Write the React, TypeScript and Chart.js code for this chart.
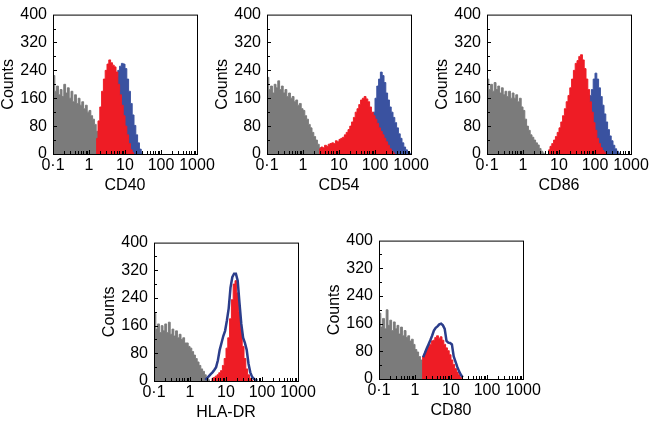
import React, { useEffect, useRef } from 'react';
import { Chart, registerables } from 'chart.js';

Chart.register(...registerables);

// ---- axis definitions ----
const X_TICK_VALUES = [0.1, 1, 10, 100, 1000];
const X_TICK_LABELS = ['0·1', '1', '10', '100', '1000'];
const Y_TICK_VALUES = [0, 80, 160, 240, 320, 400];
const Y_MINOR_STEP = 40;
const BINS_PER_DECADE = 20; // histogram channel resolution (log10 units)
const X_MIN_EXP = -1;

// ---- CD40 ----
const cd40GrayStart = 0;
const cd40Gray = [225, 180, 195, 170, 185, 165, 200, 175, 190, 160, 180, 150, 170, 145, 160, 140, 150, 130, 140, 120, 125, 110, 100, 85, 65, 45, 30, 15, 5];
const cd40RedStart = 24;
const cd40Red = [45, 95, 135, 180, 215, 240, 258, 270, 262, 255, 250, 235, 200, 170, 140, 110, 80, 55, 30, 12, 4];
const cd40BlueStart = 32;
const cd40Blue = [150, 180, 200, 220, 240, 252, 260, 258, 245, 215, 180, 145, 112, 82, 55, 32, 14, 5];

// ---- CD54 ----
const cd54GrayStart = 0;
const cd54Gray = [220, 185, 195, 175, 200, 190, 210, 185, 195, 175, 185, 165, 175, 160, 165, 150, 155, 140, 145, 130, 125, 110, 100, 85, 75, 62, 50, 40, 28, 18, 10, 4];
const cd54RedStart = 29;
const cd54Red = [15, 20, 18, 25, 22, 28, 30, 32, 30, 38, 35, 42, 45, 48, 55, 62, 70, 80, 92, 105, 120, 130, 142, 155, 160, 165, 158, 150, 135, 120, 110, 100, 88, 75, 65, 55, 45, 35, 25, 15, 8, 3];
const cd54BlueStart = 54;
const cd54Blue = [40, 55, 70, 85, 100, 120, 160, 195, 215, 235, 225, 205, 175, 155, 135, 120, 105, 90, 75, 58, 45, 32, 20, 12, 6, 2];

// ---- CD86 ----
const cd86GrayStart = 0;
const cd86Gray = [215, 185, 200, 180, 205, 185, 195, 175, 190, 170, 180, 165, 180, 160, 175, 160, 170, 150, 160, 135, 125, 100, 80, 68, 55, 48, 40, 32, 26, 16, 8, 3];
const cd86RedStart = 34;
const cd86Red = [12, 22, 30, 40, 50, 62, 75, 92, 110, 130, 150, 168, 190, 215, 240, 260, 268, 280, 285, 270, 245, 215, 185, 150, 120, 90, 68, 45, 30, 18, 10, 5];
const cd86BlueStart = 50;
const cd86Blue = [80, 100, 120, 135, 148, 155, 160, 168, 185, 215, 232, 215, 190, 165, 140, 115, 92, 70, 52, 38, 25, 15, 8, 3];

// ---- HLA-DR ----
const hlaGrayStart = 0;
const hlaGray = [195, 150, 165, 140, 160, 145, 165, 140, 170, 135, 150, 130, 145, 125, 135, 120, 125, 110, 110, 100, 95, 85, 75, 65, 55, 45, 35, 28, 18, 10, 4];
const hlaRedStart = 32;
const hlaRed = [8, 10, 14, 18, 24, 30, 45, 65, 95, 125, 180, 235, 280, 290, 255, 200, 150, 100, 65, 35, 18, 8, 3];
const hlaBlueStart = 28;
const hlaBlue = [3, 8, 14, 20, 25, 32, 40, 60, 90, 110, 130, 145, 175, 210, 270, 300, 310, 310, 290, 225, 165, 125, 110, 90, 50, 25, 12, 6, 3, 1];

// ---- CD80 ----
const cd80GrayStart = 0;
const cd80Gray = [190, 150, 175, 145, 200, 155, 170, 140, 165, 145, 155, 130, 150, 125, 140, 120, 125, 110, 115, 100, 85, 78, 65, 55, 45, 32, 20, 10, 4];
const cd80RedStart = 24;
const cd80Red = [65, 72, 85, 95, 100, 110, 112, 120, 125, 118, 122, 112, 100, 90, 82, 70, 55, 42, 30, 20, 12, 5];
const cd80BlueStart = 24;
const cd80Blue = [63, 75, 88, 100, 112, 125, 140, 148, 152, 158, 160, 155, 145, 110, 105, 104, 100, 65, 50, 35, 22, 12, 5];

// ---- styles ----
const GRAY = '#7b7b7b';
const RED = '#ee1c25';
const BLUE = '#3a52a0';
const BLUE_LINE = '#2b3d8b';
const FONT = { family: "'Liberation Sans', Arial, Helvetica, sans-serif", size: 16 };

const binEdge = (i: number) => Math.pow(10, X_MIN_EXP + i / BINS_PER_DECADE);
const binCenter = (i: number) => Math.pow(10, X_MIN_EXP + (i + 0.5) / BINS_PER_DECADE);

type Series = { start: number; values: number[]; color: string; outline?: boolean };

function toDataset(s: Series) {
  if (s.outline) {
    return {
      data: s.values.map((v, i) => ({ x: binCenter(s.start + i), y: v })),
      borderColor: s.color,
      borderWidth: 2.5,
      fill: false,
      pointRadius: 0,
      tension: 0,
      borderJoinStyle: 'miter' as const,
    };
  }
  const pts = [{ x: binEdge(s.start), y: 0 }];
  s.values.forEach((v, i) => pts.push({ x: binCenter(s.start + i), y: v }));
  pts.push({ x: binEdge(s.start + s.values.length), y: 0 });
  return {
    data: pts,
    borderColor: s.color,
    backgroundColor: s.color,
    borderWidth: 1,
    fill: 'origin',
    stepped: 'middle' as const,
    pointRadius: 0,
  };
}

const framePlugin = {
  id: 'frameTicks',
  afterDatasetsDraw(chart: any) {
    const { ctx, chartArea } = chart;
    const { left, top, right, bottom } = chartArea;
    const xs = chart.scales.x;
    const ys = chart.scales.y;
    ctx.save();
    ctx.strokeStyle = '#000';
    ctx.lineWidth = 1;
    ctx.strokeRect(left + 0.5, top + 0.5, right - left, bottom - top);
    ctx.beginPath();
    for (let d = X_MIN_EXP; d < X_MIN_EXP + 4; d++) {
      for (let m = 1; m <= 9; m++) {
        const v = m * Math.pow(10, d);
        const px = Math.round(xs.getPixelForValue(v)) + 0.5;
        const len = m === 1 ? 4 : 3;
        ctx.moveTo(px, bottom);
        ctx.lineTo(px, bottom - len);
      }
    }
    for (let v = Y_MINOR_STEP; v < 400; v += Y_MINOR_STEP) {
      const py = Math.round(ys.getPixelForValue(v)) + 0.5;
      const len = v % 80 === 0 ? 4 : 3;
      ctx.moveTo(left, py);
      ctx.lineTo(left + len, py);
    }
    ctx.stroke();
    ctx.restore();
  },
};

type PanelProps = { areaLeft: number; areaTop: number; areaHeight: number; title: string; series: Series[] };

const Y_AXIS_W = 53;
const X_AXIS_H = 46;
const AREA_W = 144;
const PAD_TOP = 10;
const PAD_RIGHT = 25;

function Panel({ areaLeft, areaTop, areaHeight, title, series }: PanelProps) {
  const ref = useRef<HTMLCanvasElement | null>(null);
  const width = Y_AXIS_W + AREA_W + PAD_RIGHT;
  const height = PAD_TOP + areaHeight + X_AXIS_H;
  useEffect(() => {
    if (!ref.current) return;
    // Chart.js draws index 0 on top: pass series front-to-back
    const datasets = series.slice().reverse().map(toDataset);
    const chart = new Chart(ref.current, {
      type: 'line',
      data: { datasets: datasets as any },
      options: {
        animation: false,
        responsive: false,
        devicePixelRatio: 1,
        layout: { padding: { left: 0, top: PAD_TOP, right: PAD_RIGHT, bottom: 0 } },
        plugins: { legend: { display: false }, tooltip: { enabled: false } },
        scales: {
          x: {
            type: 'logarithmic',
            min: 0.1,
            max: 1000,
            offset: false,
            grid: { display: false, drawTicks: false },
            border: { display: false },
            afterBuildTicks: (s: any) => {
              s.ticks = X_TICK_VALUES.map((v) => ({ value: v }));
            },
            afterFit: (s: any) => {
              s.height = X_AXIS_H;
            },
            ticks: {
              autoSkip: false,
              maxRotation: 0,
              minRotation: 0,
              padding: 2,
              color: '#000',
              font: FONT,
              callback: (_v: any, i: number) => X_TICK_LABELS[i],
            },
            title: { display: true, text: title, color: '#000', font: FONT, padding: { top: 0, bottom: 5 } },
          },
          y: {
            type: 'linear',
            min: 0,
            max: 400,
            grid: { display: false, drawTicks: false },
            border: { display: false },
            afterBuildTicks: (s: any) => {
              s.ticks = Y_TICK_VALUES.map((v) => ({ value: v }));
            },
            afterFit: (s: any) => {
              s.width = Y_AXIS_W;
            },
            ticks: { padding: 6, color: '#000', font: FONT },
            title: { display: true, text: 'Counts', color: '#000', font: FONT, padding: { top: -1, bottom: 0 } },
          },
        },
      } as any,
      plugins: [framePlugin],
    });
    return () => chart.destroy();
  }, []);
  return (
    <canvas
      ref={ref}
      width={width}
      height={height}
      style={{ position: 'absolute', left: areaLeft - Y_AXIS_W, top: areaTop - PAD_TOP, width, height }}
    />
  );
}

export default function App() {
  return (
    <div style={{ position: 'absolute', left: 0, top: 0, width: 651, height: 424, overflow: 'hidden', background: '#fff' }}>
      <Panel
        areaLeft={53}
        areaTop={9}
        areaHeight={145}
        title="CD40"
        series={[
          { start: cd40GrayStart, values: cd40Gray, color: GRAY },
          { start: cd40BlueStart, values: cd40Blue, color: BLUE },
          { start: cd40RedStart, values: cd40Red, color: RED },
        ]}
      />
      <Panel
        areaLeft={267}
        areaTop={9}
        areaHeight={145}
        title="CD54"
        series={[
          { start: cd54GrayStart, values: cd54Gray, color: GRAY },
          { start: cd54BlueStart, values: cd54Blue, color: BLUE },
          { start: cd54RedStart, values: cd54Red, color: RED },
        ]}
      />
      <Panel
        areaLeft={487}
        areaTop={9}
        areaHeight={145}
        title="CD86"
        series={[
          { start: cd86GrayStart, values: cd86Gray, color: GRAY },
          { start: cd86BlueStart, values: cd86Blue, color: BLUE },
          { start: cd86RedStart, values: cd86Red, color: RED },
        ]}
      />
      <Panel
        areaLeft={154}
        areaTop={237}
        areaHeight={144}
        title="HLA-DR"
        series={[
          { start: hlaGrayStart, values: hlaGray, color: GRAY },
          { start: hlaRedStart, values: hlaRed, color: RED },
          { start: hlaBlueStart, values: hlaBlue, color: BLUE_LINE, outline: true },
        ]}
      />
      <Panel
        areaLeft={379}
        areaTop={235}
        areaHeight={144}
        title="CD80"
        series={[
          { start: cd80GrayStart, values: cd80Gray, color: GRAY },
          { start: cd80RedStart, values: cd80Red, color: RED },
          { start: cd80BlueStart, values: cd80Blue, color: BLUE_LINE, outline: true },
        ]}
      />
    </div>
  );
}
